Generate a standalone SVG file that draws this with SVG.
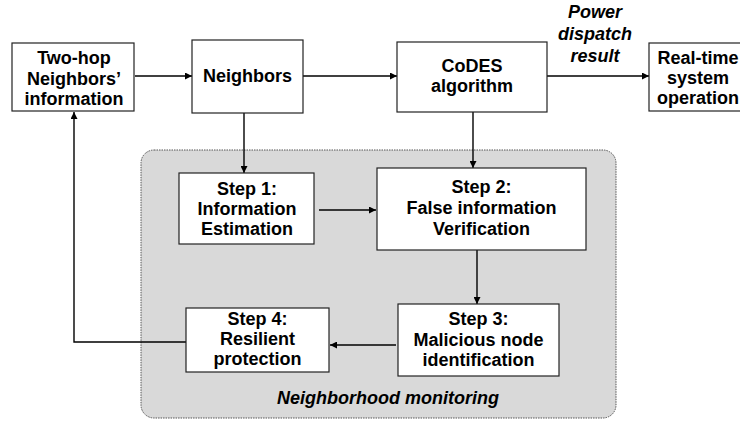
<svg xmlns="http://www.w3.org/2000/svg" width="740" height="421" viewBox="0 0 740 421">
<style>
.box{fill:#ffffff;stroke:#222222;stroke-width:1.2}
.t{font-family:"Liberation Sans",Arial,sans-serif;font-weight:bold;font-size:18px;fill:#000000;text-anchor:middle}
.ti{font-style:italic}
.c{fill:none;stroke:#000000;stroke-width:1.4}
</style>
<defs>
<marker id="ah" viewBox="0 0 10 10" refX="10" refY="5" markerWidth="7" markerHeight="7" markerUnits="userSpaceOnUse" orient="auto">
<path d="M0,0 L10,5 L0,10 z" fill="#000000"/>
</marker>
</defs>
<rect width="740" height="421" fill="#ffffff"/>
<g id="container">
<rect x="141" y="150" width="475" height="268" rx="13" ry="13" fill="#d9d9d9" stroke="#555555" stroke-width="1" stroke-dasharray="1.5 1"/>
<text class="t ti" x="388" y="404">Neighborhood monitoring</text>
</g>
<g id="connectors">
<line class="c" x1="135" y1="76" x2="192" y2="76" marker-end="url(#ah)"/>
<line class="c" x1="303" y1="76" x2="397" y2="76" marker-end="url(#ah)"/>
<line class="c" x1="547" y1="76" x2="649" y2="76" marker-end="url(#ah)"/>
<line class="c" x1="244" y1="113" x2="244" y2="173" marker-end="url(#ah)"/>
<line class="c" x1="473" y1="112" x2="473" y2="168" marker-end="url(#ah)"/>
<line class="c" x1="319" y1="210" x2="376" y2="210" marker-end="url(#ah)"/>
<line class="c" x1="477" y1="250" x2="477" y2="304" marker-end="url(#ah)"/>
<line class="c" x1="396" y1="345" x2="330" y2="345" marker-end="url(#ah)"/>
<polyline class="c" points="186,342 74,342 74,112" marker-end="url(#ah)"/>
<g id="label-power">
<text class="t ti" x="595" y="18">Power</text>
<text class="t ti" x="595" y="40">dispatch</text>
<text class="t ti" x="595" y="62">result</text>
</g>
</g>
<g id="twohop">
<rect class="box" x="12" y="43" width="122" height="68"/>
<text class="t" x="74" y="64">Two-hop</text>
<text class="t" x="74" y="85">Neighbors’</text>
<text class="t" x="74" y="105">information</text>
</g>
<g id="neighbors">
<rect class="box" x="192" y="40" width="111" height="73"/>
<text class="t" x="247.5" y="82">Neighbors</text>
</g>
<g id="codes">
<rect class="box" x="397" y="42" width="150" height="70"/>
<text class="t" x="472" y="72">CoDES</text>
<text class="t" x="472" y="92">algorithm</text>
</g>
<g id="realtime">
<rect class="box" x="649" y="43" width="100" height="68"/>
<text class="t" x="698" y="64">Real-time</text>
<text class="t" x="698" y="84">system</text>
<text class="t" x="698" y="104">operation</text>
</g>
<g id="step1">
<rect class="box" x="179" y="173" width="135" height="71"/>
<text class="t" x="247" y="195">Step 1:</text>
<text class="t" x="247" y="215">Information</text>
<text class="t" x="247" y="235">Estimation</text>
</g>
<g id="step2">
<rect class="box" x="377" y="168" width="209" height="82"/>
<text class="t" x="481.5" y="193">Step 2:</text>
<text class="t" x="481.5" y="214">False information</text>
<text class="t" x="481.5" y="235">Verification</text>
</g>
<g id="step3">
<rect class="box" x="398" y="304" width="161" height="72"/>
<text class="t" x="478.5" y="325">Step 3:</text>
<text class="t" x="478.5" y="346">Malicious node</text>
<text class="t" x="478.5" y="366">identification</text>
</g>
<g id="step4">
<rect class="box" x="186" y="308" width="143" height="64"/>
<text class="t" x="257.5" y="325">Step 4:</text>
<text class="t" x="257.5" y="345">Resilient</text>
<text class="t" x="257.5" y="365">protection</text>
</g>
</svg>
